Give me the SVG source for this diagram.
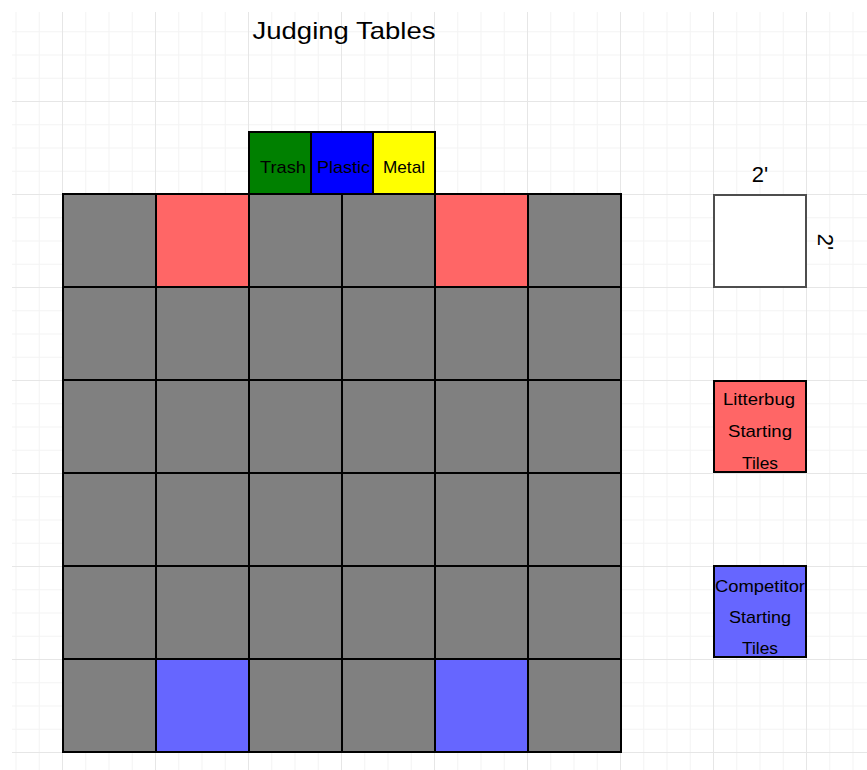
<svg xmlns="http://www.w3.org/2000/svg" width="867" height="770" viewBox="0 0 867 770">
<style>
.tile{stroke:#000;stroke-width:2}
.g{fill:#808080}
.r{fill:#FF6666}
.b{fill:#6666FF}
.t{font-family:"Liberation Sans",Arial,sans-serif;fill:#000;text-anchor:middle}
.lbl{font-size:17px}
.box{stroke:#000;stroke-width:2}
</style>
<defs>
<pattern id="minor" patternUnits="userSpaceOnUse" x="62" y="8" width="23.25" height="23.25">
<path d="M0 0.5H23.25M0.5 0V23.25" fill="none" stroke="#f3f3f3" stroke-width="1"/>
</pattern>
<pattern id="major" patternUnits="userSpaceOnUse" x="62" y="8" width="93" height="93">
<path d="M0 0.5H93M0.5 0V93" fill="none" stroke="#e6e6e6" stroke-width="1"/>
</pattern>
</defs>
<rect width="867" height="770" fill="#fff"/>
<g id="background-grid">
<rect x="12" y="12" width="855" height="758" fill="url(#minor)"/>
<rect x="12" y="12" width="855" height="758" fill="url(#major)"/>
</g>
<g id="title"><text class="t" x="344" y="39" font-size="24" textLength="183" lengthAdjust="spacingAndGlyphs">Judging Tables</text></g>
<g id="judging-tables">
<g id="trash"><rect class="box" x="249" y="132" width="62" height="62" fill="#008000"/><text class="t lbl" x="283" y="173" textLength="46" lengthAdjust="spacingAndGlyphs">Trash</text></g>
<g id="plastic"><rect class="box" x="311" y="132" width="62" height="62" fill="#0000FF"/><text class="t lbl" x="343.5" y="173" textLength="53" lengthAdjust="spacingAndGlyphs">Plastic</text></g>
<g id="metal"><rect class="box" x="373" y="132" width="62" height="62" fill="#FFFF00"/><text class="t lbl" x="404" y="173" textLength="42" lengthAdjust="spacingAndGlyphs">Metal</text></g>
</g>
<g id="field">
<g class="tile">
<rect class="g" x="63" y="194" width="93" height="93"/><rect class="r" x="156" y="194" width="93" height="93"/><rect class="g" x="249" y="194" width="93" height="93"/><rect class="g" x="342" y="194" width="93" height="93"/><rect class="r" x="435" y="194" width="93" height="93"/><rect class="g" x="528" y="194" width="93" height="93"/>
<rect class="g" x="63" y="287" width="93" height="93"/><rect class="g" x="156" y="287" width="93" height="93"/><rect class="g" x="249" y="287" width="93" height="93"/><rect class="g" x="342" y="287" width="93" height="93"/><rect class="g" x="435" y="287" width="93" height="93"/><rect class="g" x="528" y="287" width="93" height="93"/>
<rect class="g" x="63" y="380" width="93" height="93"/><rect class="g" x="156" y="380" width="93" height="93"/><rect class="g" x="249" y="380" width="93" height="93"/><rect class="g" x="342" y="380" width="93" height="93"/><rect class="g" x="435" y="380" width="93" height="93"/><rect class="g" x="528" y="380" width="93" height="93"/>
<rect class="g" x="63" y="473" width="93" height="93"/><rect class="g" x="156" y="473" width="93" height="93"/><rect class="g" x="249" y="473" width="93" height="93"/><rect class="g" x="342" y="473" width="93" height="93"/><rect class="g" x="435" y="473" width="93" height="93"/><rect class="g" x="528" y="473" width="93" height="93"/>
<rect class="g" x="63" y="566" width="93" height="93"/><rect class="g" x="156" y="566" width="93" height="93"/><rect class="g" x="249" y="566" width="93" height="93"/><rect class="g" x="342" y="566" width="93" height="93"/><rect class="g" x="435" y="566" width="93" height="93"/><rect class="g" x="528" y="566" width="93" height="93"/>
<rect class="g" x="63" y="659" width="93" height="93"/><rect class="b" x="156" y="659" width="93" height="93"/><rect class="g" x="249" y="659" width="93" height="93"/><rect class="g" x="342" y="659" width="93" height="93"/><rect class="b" x="435" y="659" width="93" height="93"/><rect class="g" x="528" y="659" width="93" height="93"/>
</g>
</g>
<g id="scale">
<rect x="714" y="195" width="92" height="92" fill="#fff" stroke="#4d4d4d" stroke-width="2"/>
<text class="t" x="760" y="182" font-size="22">2'</text>
<text class="t" font-size="22" transform="translate(818 242) rotate(90)">2'</text>
</g>
<g id="litterbug-legend">
<rect class="box" x="714" y="381" width="92" height="91" fill="#FF6666" stroke="#333"/>
<text class="t lbl" x="759" y="405" textLength="72" lengthAdjust="spacingAndGlyphs">Litterbug</text>
<text class="t lbl" x="760" y="437" textLength="64" lengthAdjust="spacingAndGlyphs">Starting</text>
<text class="t lbl" x="760" y="469" textLength="36" lengthAdjust="spacingAndGlyphs">Tiles</text>
</g>
<g id="competitor-legend">
<rect class="box" x="714" y="566" width="92" height="91" fill="#6666FF" stroke="#333"/>
<text class="t lbl" x="760" y="592" textLength="90" lengthAdjust="spacingAndGlyphs">Competitor</text>
<text class="t lbl" x="760" y="623" textLength="62" lengthAdjust="spacingAndGlyphs">Starting</text>
<text class="t lbl" x="760" y="654" textLength="36" lengthAdjust="spacingAndGlyphs">Tiles</text>
</g>
</svg>
